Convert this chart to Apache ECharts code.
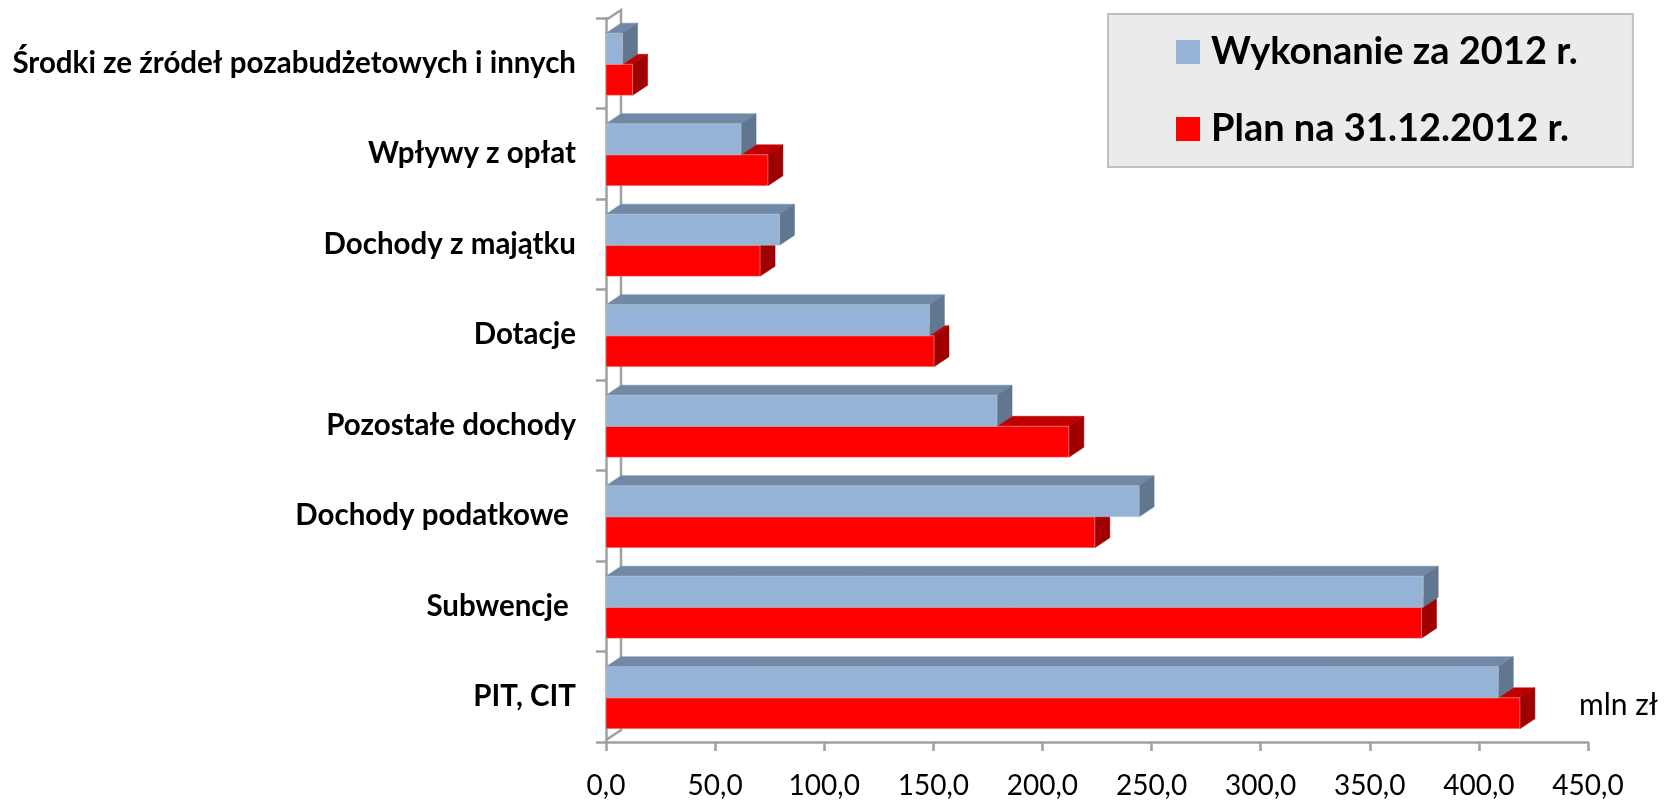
<!DOCTYPE html>
<html>
<head>
<meta charset="utf-8">
<script src="https://cdn.jsdelivr.net/npm/echarts@6/dist/echarts.min.js"></script>
<style>html,body{margin:0;padding:0;background:#fff;}#c{width:1670px;height:807px;}</style>
</head>
<body>
<div id="c"></div>
<script>
// Categories top -> bottom
var categories = [
  'Środki ze źródeł pozabudżetowych i innych',
  'Wpływy z opłat',
  'Dochody z majątku',
  'Dotacje',
  'Pozostałe dochody',
  'Dochody podatkowe ',
  'Subwencje ',
  'PIT, CIT'
];
var wykonanie = [7.6, 61.9, 79.5, 148.2, 179.2, 244.3, 374.5, 408.9];
var plan = [12.2, 74.2, 70.6, 150.3, 212.1, 224.0, 373.7, 418.8];
var seriesNames = ['Wykonanie za 2012 r.', 'Plan na 31.12.2012 r.'];
var xTicks = {min: 0, max: 450, interval: 50};
var unitLabel = 'mln zł';

var GL = 606, GR = 82, GT = 18, GB = 65;
var DX = 15, DY = -10;

function toData(arr) { return arr.map(function (v, i) { return [v, i]; }); }

function makeRender(upper, col) {
  return function (params, api) {
    var v = api.value(0), c = api.value(1);
    var p0 = api.coord([0, c]);
    var p1 = api.coord([v, c]);
    var band = api.size([0, 1])[1];
    var h = band * 0.343;
    var cy = p0[1] + 1;
    var y0 = upper ? cy - h : cy;
    var x0 = p0[0], x1 = p1[0];
    return {
      type: 'group',
      children: [
        {type: 'polygon', shape: {points: [[x0, y0], [x1, y0], [x1 + DX, y0 + DY], [x0 + DX, y0 + DY]]},
          style: {fill: col.top, stroke: col.top, lineWidth: 0.5}},
        {type: 'polygon', shape: {points: [[x1, y0], [x1 + DX, y0 + DY], [x1 + DX, y0 + DY + h], [x1, y0 + h]]},
          style: {fill: col.side, stroke: col.side, lineWidth: 0.5}},
        {type: 'rect', shape: {x: x0, y: y0, width: x1 - x0, height: h},
          style: {fill: col.front, stroke: 'rgba(200,200,200,0.6)', lineWidth: 0.8}}
      ]
    };
  };
}

var blueCol = {front: '#95B3D7', top: '#7189A6', side: '#61778F'};
var redCol = {front: '#FF0000', top: '#C00000', side: '#A00000'};

var axisGray = '#A0A0A0';

var chart = echarts.init(document.getElementById('c'), null, {renderer: 'canvas'});
chart.setOption({
  animation: false,
  backgroundColor: '#ffffff',
  grid: {left: GL, right: GR, top: GT, bottom: GB, containLabel: false},
  legend: {
    orient: 'vertical',
    left: 1108, top: 14,
    data: seriesNames,
    icon: 'rect',
    itemWidth: 24, itemHeight: 24,
    itemGap: 37,
    padding: [18, 55, 18, 68],
    backgroundColor: '#EBEBEB',
    borderColor: '#BFBFBF',
    borderWidth: 2,
    borderRadius: 0,
    textStyle: {fontFamily: 'Lato', fontWeight: 'bold', fontSize: 38, color: '#000', lineHeight: 40, padding: [0, 0, 0, 6]}
  },
  xAxis: {
    type: 'value',
    min: xTicks.min, max: xTicks.max, interval: xTicks.interval,
    axisLine: {show: true, lineStyle: {color: axisGray, width: 2.5}},
    axisTick: {show: true, length: 9, lineStyle: {color: axisGray, width: 2.5}},
    splitLine: {show: false},
    axisLabel: {
      margin: 30, fontFamily: 'Lato', fontSize: 28, color: '#000',
      formatter: function (v) { return v.toFixed(1).replace('.', ','); }
    }
  },
  yAxis: {
    type: 'category',
    inverse: true,
    data: categories,
    axisLine: {show: true, lineStyle: {color: axisGray, width: 2.5}},
    axisTick: {show: true, length: 10, lineStyle: {color: axisGray, width: 2.5}},
    axisLabel: {margin: 30, fontFamily: 'Lato', fontWeight: 'bold', fontSize: 29.5, color: '#000'}
  },
  series: [
    {
      name: seriesNames[1], type: 'custom', renderItem: makeRender(false, redCol),
      itemStyle: {color: redCol.front}, encode: {x: 0, y: 1}, data: toData(plan), z: 2
    },
    {
      name: seriesNames[0], type: 'custom', renderItem: makeRender(true, blueCol),
      itemStyle: {color: blueCol.front}, encode: {x: 0, y: 1}, data: toData(wykonanie), z: 3
    }
  ],
  graphic: [
    {
      type: 'polyline', z: 1, silent: true,
      shape: {points: [[GL, GT + 2], [GL + DX, GT + 2 + DY], [GL + DX, 807 - GB + DY - 2], [GL, 807 - GB - 2]]},
      style: {stroke: axisGray, lineWidth: 2.5, fill: null}
    },
    {
      type: 'text', left: 1579, top: 690, silent: true,
      style: {text: unitLabel, fontFamily: 'Lato', fontSize: 30, fill: '#000'}
    }
  ]
});
</script>
</body>
</html>
